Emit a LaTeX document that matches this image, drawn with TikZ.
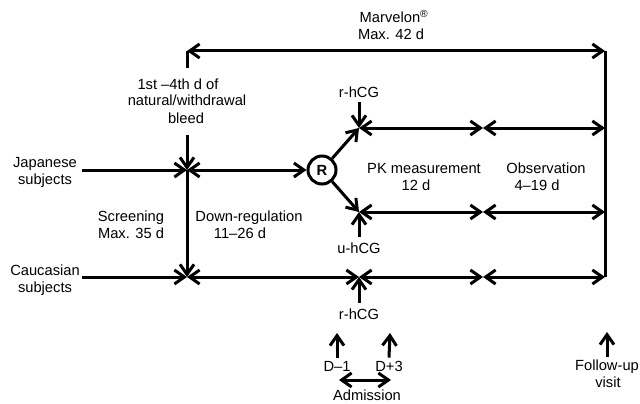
\documentclass[tikz,border=0pt]{standalone}
\usepackage{fontspec}
\setmainfont{Liberation Sans}
\usetikzlibrary{arrows.meta}
\newcommand{\dgfs}{\fontsize{14.7}{17}\selectfont}
\tikzset{
  lbl/.style={font=\dgfs, inner sep=0pt, anchor=base},
  ln/.style={line width=3pt},
  arr/.style={ln, -{Straight Barb[length=10pt,width=14pt]}},
  arrboth/.style={ln, {Straight Barb[length=10pt,width=14pt]}-{Straight Barb[length=10pt,width=14pt]}},
}
\begin{document}
\begin{tikzpicture}[x=1pt,y=-1pt]
\useasboundingbox (0,0) rectangle (640,404);
% coordinates
\coordinate (TL) at (187,51);
\coordinate (TR) at (605,51);
\coordinate (Vtop) at (187,68);
\coordinate (Vmid) at (187,135);
\coordinate (JL) at (82,170);
\coordinate (J1) at (187,170);
\coordinate (CL) at (82,277);
\coordinate (C1) at (187,277);
\coordinate (C2) at (359,277);
\coordinate (C3) at (483,277);
\coordinate (C4) at (605,277);
\coordinate (U1) at (359,128);
\coordinate (U2) at (483,128);
\coordinate (U3) at (605,128);
\coordinate (L1) at (359,212);
\coordinate (L2) at (483,212);
\coordinate (L3) at (605,212);
\coordinate (adL) at (339,380);
\coordinate (adR) at (391,380);
\coordinate (tD1) at (337,333);
\coordinate (tD3) at (390,333);
\coordinate (tFU) at (607,332);
\coordinate (sRtop) at (359,102);
% labels
\node[lbl] (mar1) at (394,23) {Marvelon\textsuperscript{®}};
\node[lbl] (mar2) at (391,40) {Max. 42 d};
\node[lbl] (bl1) at (178,89) {1st –4th d of};
\node[lbl] (bl2) at (187,106) {natural/withdrawal};
\node[lbl] (bl3) at (186,123) {bleed};
\node[lbl] (jp1) at (45,167) {Japanese};
\node[lbl] (jp2) at (45,184) {subjects};
\node[lbl] (ca1) at (45,275) {Caucasian};
\node[lbl] (ca2) at (45,292) {subjects};
\node[lbl] (sc1) at (131,221) {Screening};
\node[lbl] (sc2) at (131,238) {Max. 35 d};
\node[lbl] (dr1) at (249,221) {Down-regulation};
\node[lbl] (dr2) at (240,238) {11–26 d};
\node[lbl] (pk1) at (424,173) {PK measurement};
\node[lbl] (pk2) at (416,190) {12 d};
\node[lbl] (ob1) at (546,173) {Observation};
\node[lbl] (ob2) at (537,190) {4–19 d};
\node[lbl] (rh1) at (359,97) {r-hCG};
\node[lbl] (uh) at (359,253) {u-hCG};
\node[lbl] (rh2) at (359,319) {r-hCG};
\node[lbl] (dm1) at (337,371) {D–1};
\node[lbl] (dp3) at (389,371) {D+3};
\node[lbl] (adm) at (367,400) {Admission};
\node[lbl] (fu1) at (607,370) {Follow-up};
\node[lbl] (fu2) at (608,387) {visit};
\node[circle, draw, ln, minimum size=28pt, inner sep=0pt, font=\dgfs\bfseries] (R) at (322,170) {R};
% top bar
\draw[arrboth] (TL) -- (TR);
\draw[ln] (TR) -- (C4);
\draw[ln] (TL) -- (Vtop);
\draw[arr] (Vmid) -- (J1);
\draw[arr] (J1) -- (C1);
% Japanese
\draw[arr] (JL) -- (J1);
\draw[arrboth] (J1) -- (R);
\draw[arr] (R) -- (U1);
\draw[arr] (R) -- (L1);
% PK upper / lower
\draw[arrboth] (U1) -- (U2);
\draw[arrboth] (U2) -- (U3);
\draw[arrboth] (L1) -- (L2);
\draw[arrboth] (L2) -- (L3);
% Caucasian
\draw[arr] (CL) -- (C1);
\draw[arrboth] (C1) -- (C2);
\draw[arrboth] (C2) -- (C3);
\draw[arrboth] (C3) -- (C4);
% hCG arrows
\draw[arr] (sRtop) -- (U1);
\draw[arr] ([yshift=5pt]uh.north) -- (L1);
\draw[arr] ([yshift=5pt]rh2.north) -- (C2);
% admission
\draw[arr] ([yshift=3pt]dm1.north) -- (tD1);
\draw[arr] ([yshift=3pt]dp3.north) -- (tD3);
\draw[arrboth] (adL) -- (adR);
\draw[arr] ([yshift=2pt]fu1.north) -- (tFU);
\end{tikzpicture}
\end{document}
